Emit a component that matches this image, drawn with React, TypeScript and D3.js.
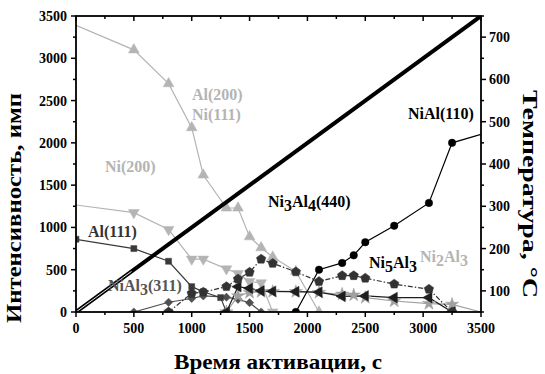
import React from "react";
import * as d3 from "d3";

// Activation time (s) and peak intensities (counts) for each phase reflection
const al200Time = [0, 500, 800, 1000, 1100, 1300, 1400, 1500, 1600, 1700, 1900, 2100];
const al200Vals = [3390, 3100, 2700, 2180, 1620, 1230, 1230, 890, 760, 650, 480, 0];

const ni200Time = [0, 500, 800, 1000, 1100, 1300, 1400, 1500, 1600, 1700];
const ni200Vals = [1265, 1175, 975, 625, 625, 510, 455, 360, 345, 0];

const al111Time = [0, 500, 800, 1000, 1100, 1250, 1300];
const al111Vals = [860, 750, 600, 300, 240, 170, 0];

const ni3al4Time = [800, 1000, 1100, 1300, 1400, 1500, 1600, 1700, 1900, 2100, 2300, 2400, 2500, 2750, 3050, 3250];
const ni3al4Vals = [0, 220, 235, 300, 390, 470, 625, 575, 475, 360, 430, 430, 400, 330, 270, 0];

const nial3Time = [500, 800, 1000, 1100, 1300, 1400, 1500, 1600];
const nial3Vals = [0, 115, 160, 190, 175, 150, 110, 0];

const ni5al3Time = [1300, 1400, 1500, 1600, 1700, 1900, 2100, 2300, 2500, 2750, 3050, 3250];
const ni5al3Vals = [0, 300, 280, 250, 245, 240, 235, 185, 190, 170, 170, 0];

const ni2al3Time = [1300, 1400, 1500, 1600, 1700, 1900, 2100, 2300, 2400, 2500, 2750, 3050, 3250, 3500];
const ni2al3Vals = [0, 190, 230, 240, 240, 240, 230, 210, 200, 170, 130, 100, 90, 0];

const nialTime = [1900, 2100, 2300, 2400, 2500, 2750, 3050, 3250, 3500];
const nialVals = [0, 500, 580, 670, 825, 1020, 1290, 2000, 2100];

// Furnace temperature ramp (°C)
const tempTime = [0, 3500];
const tempVals = [50, 750];

const xTicks = [0, 500, 1000, 1500, 2000, 2500, 3000, 3500];
const yTicks = [0, 500, 1000, 1500, 2000, 2500, 3000, 3500];
const tTicks = [100, 200, 300, 400, 500, 600, 700];

const W = 545;
const H = 374;
const left = 76;
const right = 481;
const top = 16;
const bottom = 312;

const x = d3.scaleLinear().domain([0, 3500]).range([left, right]);
const y = d3.scaleLinear().domain([0, 3500]).range([bottom, top]);
const yT = d3.scaleLinear().domain([50, 750]).range([bottom, top]);

// five-sided marker
const pentagon: d3.SymbolType = {
  draw(ctx, size) {
    const r = Math.sqrt(size / 2.378);
    for (let i = 0; i < 5; i++) {
      const a = -Math.PI / 2 + (i * 2 * Math.PI) / 5;
      const px = r * Math.cos(a);
      const py = r * Math.sin(a);
      if (i === 0) ctx.moveTo(px, py);
      else ctx.lineTo(px, py);
    }
    ctx.closePath();
  },
};

type Series = {
  time: number[];
  vals: number[];
  color: string;
  symbol: d3.SymbolType;
  size: number;
  rotate: number;
  dash?: string;
  edgeMarkers: boolean;
};

const series: Series[] = [
  { time: al200Time, vals: al200Vals, color: "#b4b4b4", symbol: d3.symbolTriangle, size: 50, rotate: 0, edgeMarkers: false },
  { time: ni200Time, vals: ni200Vals, color: "#b4b4b4", symbol: d3.symbolTriangle, size: 50, rotate: 180, edgeMarkers: false },
  { time: nial3Time, vals: nial3Vals, color: "#505050", symbol: d3.symbolSquare, size: 34, rotate: 45, edgeMarkers: true },
  { time: al111Time, vals: al111Vals, color: "#3a3a3a", symbol: d3.symbolSquare, size: 36, rotate: 0, edgeMarkers: true },
  { time: ni2al3Time, vals: ni2al3Vals, color: "#a0a0a0", symbol: d3.symbolStar, size: 55, rotate: 0, edgeMarkers: false },
  { time: ni5al3Time, vals: ni5al3Vals, color: "#1e1e1e", symbol: d3.symbolTriangle, size: 50, rotate: -90, edgeMarkers: true },
  { time: ni3al4Time, vals: ni3al4Vals, color: "#333333", symbol: pentagon, size: 58, rotate: 0, dash: "5,2,1.5,2", edgeMarkers: true },
  { time: nialTime, vals: nialVals, color: "#000000", symbol: d3.symbolCircle, size: 44, rotate: 0, edgeMarkers: false },
];

const line = d3
  .line<[number, number]>()
  .x((d) => x(d[0]))
  .y((d) => y(d[1]));

const tempLine = d3
  .line<[number, number]>()
  .x((d) => x(d[0]))
  .y((d) => yT(d[1]));

const font = "'Liberation Serif', 'Times New Roman', serif";

export default function App() {
  const xMinor = d3.range(0, 3501, 250);
  const yMinor = d3.range(0, 3501, 250);
  const tMinor = d3.range(50, 751, 50);
  const tempPts = tempTime.map((t, i) => [t, tempVals[i]] as [number, number]);
  // light streak inside the ramp near its start
  const streakEnd = 480;
  const streakPts: [number, number][] = [
    [tempTime[0], tempVals[0]],
    [streakEnd, tempVals[0] + ((tempVals[1] - tempVals[0]) * streakEnd) / (tempTime[1] - tempTime[0])],
  ];

  return (
    <svg
      width={W}
      height={H}
      style={{ position: "absolute", left: 0, top: 0, background: "#fff" }}
      fontFamily={font}
      fontWeight="bold"
    >
      <defs>
        <clipPath id="plot-clip">
          <rect x={left} y={top} width={right - left} height={bottom - top} />
        </clipPath>
      </defs>
      <rect x={0} y={0} width={W} height={H} fill="#fff" />

      <g clipPath="url(#plot-clip)">
        {series.map((s, i) => (
          <path
            key={"l" + i}
            d={line(s.time.map((t, j) => [t, s.vals[j]] as [number, number])) || ""}
            fill="none"
            stroke={s.color}
            strokeWidth={1.2}
            strokeDasharray={s.dash}
          />
        ))}
        {series.map((s, i) =>
          s.time.map((t, j) => {
            if (!s.edgeMarkers && (t === 0 || t === 3500)) return null;
            return (
              <path
                key={"m" + i + "-" + j}
                d={d3.symbol().type(s.symbol).size(s.size)() || ""}
                transform={`translate(${x(t)},${y(s.vals[j])}) rotate(${s.rotate})`}
                fill={s.color}
                stroke={s.color}
                strokeWidth={0.5}
              />
            );
          })
        )}
        <path d={tempLine(tempPts) || ""} fill="none" stroke="#000" strokeWidth={4} />
        <path d={tempLine(streakPts) || ""} fill="none" stroke="#fff" strokeWidth={0.9} />
      </g>

      {/* frame */}
      <rect x={left} y={top} width={right - left} height={bottom - top} fill="none" stroke="#000" strokeWidth={1.8} />

      {/* bottom and top axes */}
      {xMinor.map((v) => (
        <line key={"xb" + v} x1={x(v)} x2={x(v)} y1={bottom} y2={bottom + (v % 500 === 0 ? 5 : 3)} stroke="#000" strokeWidth={1.5} />
      ))}
      {xMinor.map((v) => (
        <line key={"xt" + v} x1={x(v)} x2={x(v)} y1={top} y2={top + (v % 500 === 0 ? 5 : 3)} stroke="#000" strokeWidth={1.5} />
      ))}
      {xTicks.map((v) => (
        <text key={"xl" + v} x={x(v)} y={bottom + 21} textAnchor="middle" fontSize={14}>
          {v}
        </text>
      ))}

      {/* left axis */}
      {yMinor.map((v) => (
        <line key={"yl" + v} x1={left - (v % 500 === 0 ? 5 : 3)} x2={left} y1={y(v)} y2={y(v)} stroke="#000" strokeWidth={1.5} />
      ))}
      {yTicks.map((v) => (
        <text key={"yt" + v} x={left - 9} y={y(v) + 5} textAnchor="end" fontSize={14}>
          {v}
        </text>
      ))}

      {/* right axis */}
      {tMinor.map((v) => (
        <line key={"tr" + v} x1={right} x2={right + (v % 100 === 0 ? 5 : 3)} y1={yT(v)} y2={yT(v)} stroke="#000" strokeWidth={1.5} />
      ))}
      {tTicks.map((v) => (
        <text key={"tl" + v} x={right + 8} y={yT(v) + 5} textAnchor="start" fontSize={14}>
          {v}
        </text>
      ))}

      {/* axis titles */}
      <text x={278} y={369} textAnchor="middle" fontSize={21} textLength={208} lengthAdjust="spacingAndGlyphs">
        Время активации, с
      </text>
      <text transform="translate(21, 208) rotate(-90)" textAnchor="middle" fontSize={21} textLength={230} lengthAdjust="spacingAndGlyphs">
        Интенсивность, имп
      </text>
      <text transform="translate(523, 194) rotate(90)" textAnchor="middle" fontSize={21} textLength={208} lengthAdjust="spacingAndGlyphs">
        Температура, °С
      </text>

      {/* phase labels */}
      <g fontSize={16}>
        <text x={192} y={100} fill="#b4b4b4">Al(200)</text>
        <text x={192} y={120} fill="#b4b4b4">Ni(111)</text>
        <text x={105} y={172} fill="#b4b4b4">Ni(200)</text>
        <text x={88} y={237} fill="#333">Al(111)</text>
        <text x={108} y={291} fill="#555">
          NiAl<tspan dy={4}>3</tspan><tspan dy={-4}>(311)</tspan>
        </text>
        <text x={268} y={207} fill="#000">
          Ni<tspan dy={4}>3</tspan><tspan dy={-4}>Al</tspan><tspan dy={4}>4</tspan><tspan dy={-4}>(440)</tspan>
        </text>
        <text x={408} y={119} fill="#000">NiAl(110)</text>
        <text x={369} y={268} fill="#000">
          Ni<tspan dy={4}>5</tspan><tspan dy={-4}>Al</tspan><tspan dy={4}>3</tspan>
        </text>
        <text x={420} y={262} fill="#b4b4b4">
          Ni<tspan dy={4}>2</tspan><tspan dy={-4}>Al</tspan><tspan dy={4}>3</tspan>
        </text>
      </g>
    </svg>
  );
}
